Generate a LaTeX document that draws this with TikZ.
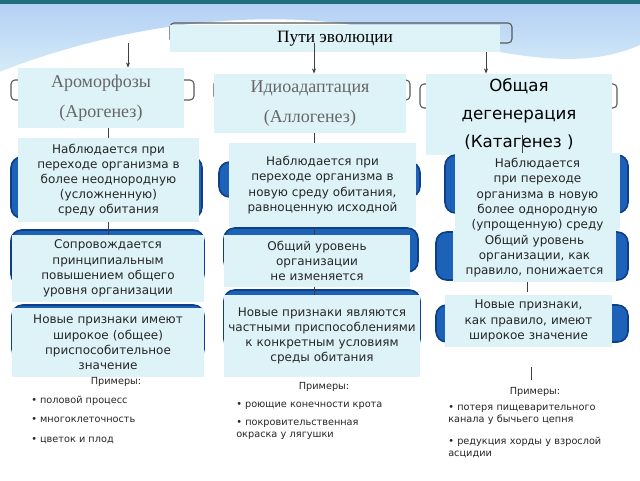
\documentclass[tikz,border=0pt]{standalone}
\usepackage{fontspec}
\setmainfont{DejaVu Sans}
\newfontfamily\serifx{Liberation Serif}
\usetikzlibrary{fit,arrows.meta}
\definecolor{lc}{HTML}{DDF3F8}
\definecolor{barc}{HTML}{1C62B8}
\definecolor{bard}{HTML}{0E3F86}
\definecolor{sky}{HTML}{9ED8EA}
\definecolor{teal}{HTML}{1F6E7E}
\begin{document}
\begin{tikzpicture}[x=0.75pt,y=-0.75pt,
  tb/.style={fill=lc,draw=none,inner sep=0pt},
  txt/.style={font=\fontsize{9}{11.4}\selectfont,align=center,text=black!85,inner sep=0pt},
  bar/.style={fill=barc,draw=bard,line width=1.2pt,rounded corners=8pt},
  brk/.style={draw=black!65,line width=0.8pt,rounded corners=3pt},
  ln/.style={draw=black!75,line width=0.7pt},
  ex/.style={font=\fontsize{7.3}{9}\selectfont,align=left,anchor=west,text=black!85,inner sep=0pt}]
\useasboundingbox (0,0) rectangle (640,480);
% background
\fill[white] (0,0) rectangle (640,480);
\shade[top color=sky!80!blue!60,bottom color=sky!40] (0,0) -- (640,0) -- (640,45) .. controls (560,80) and (470,40) .. (330,22) .. controls (200,10) and (80,40) .. (0,72) -- cycle;
\fill[white] (0,72) .. controls (80,40) and (200,14) .. (330,24) .. controls (200,20) and (80,50) .. (0,80) -- cycle;
\fill[teal] (0,0) rectangle (640,4);
% title
\draw[brk] (170,23) rectangle (512,43);
\node[tb,fit={(170,25)(500,52)}] (t) {};
\node[font=\serifx\fontsize{13}{15}\selectfont] (tt) at (t) {Пути эволюции};
% brackets row 2
\draw[brk] (11,80) rectangle (194,100);
\draw[brk] (214,80) rectangle (410,100);
\draw[brk] (420,84) rectangle (617,108);
% arrows
\coordinate (a0) at (128,43); \coordinate (b0) at (314,43); \coordinate (c0) at (486,52);
\node[tb,fit={(18,68)(184,128)}] (a) {};
\node[tb,fit={(214,74)(406,133)}] (b) {};
\node[tb,fit={(426,74)(612,155)}] (c) {};
\draw[ln,-{Stealth[length=4pt]}] (a0) -- (a.north -| a0);
\draw[ln,-{Stealth[length=4pt]}] (b0) -- (b.north -| b0);
\draw[ln,-{Stealth[length=4pt]}] (c0) -- (c.north -| c0);
\node[font=\serifx\fontsize{13.5}{22}\selectfont,align=center,text=black!60] at (a) {Ароморфозы\\(Арогенез)};
\node[font=\serifx\fontsize{13.5}{22}\selectfont,align=center,text=black!60] at (b) {Идиоадаптация\\(Аллогенез)};
\node[font=\fontsize{12.5}{21}\selectfont,align=center] at (c) {Общая\\дегенерация\\(Катагенез )};
% bars
\draw[bar] (11,157) rectangle (202,218);
\draw[bar] (219,162) rectangle (420,197);
\draw[bar] (445,155) rectangle (628,213);
\draw[bar] (11,230) rectangle (204,285);
\draw[bar] (224,228) rectangle (418,272);
\draw[bar] (436,232) rectangle (628,280);
\draw[bar] (12,305) rectangle (204,360);
\draw[bar] (224,290) rectangle (420,350);
\draw[bar] (436,305) rectangle (628,342);
% boxes
\node[tb,fit={(18,138)(199,222)}] (a1) {};
\node[tb,fit={(229,143)(416,227)}] (b1) {};
\node[tb,fit={(455,153)(620,230)}] (c1) {};
\node[tb,fit={(12,235)(204,302)}] (a2) {};
\node[tb,fit={(224,235)(410,287)}] (b2) {};
\node[tb,fit={(453,230)(616,282)}] (c2) {};
\node[tb,fit={(12,308)(204,377)}] (a3) {};
\node[tb,fit={(224,295)(420,377)}] (b3) {};
\node[tb,fit={(445,295)(612,347)}] (c3) {};
% connector lines
\draw[ln] (a.south -| 108,0) -- (a1.north -| 108,0);
\draw[ln] (a1.south -| 108,0) -- (a2.north -| 108,0);
\draw[ln] (b.south -| 314,0) -- (b1.north -| 314,0);
\draw[ln] (b1.south -| 314,0) -- (b2.north -| 314,0);
\draw[ln] (b2.south -| 314,0) -- (b3.north -| 314,0);
\draw[ln] (c.south -| 522,0) ++(0,-20) -- (c1.north -| 522,0);
\draw[ln] (c2.south -| 527,0) -- ++(0,10);
\coordinate (c4) at (531,380);
\draw[ln] (c3.south -| 531,0) ++(0,20) -- (c4);
% texts
\node[txt,text width=132pt] at (a1) {Наблюдается при переходе организма в более неоднородную (усложненную) среду обитания};
\node[txt,text width=132pt] at (b1) {Наблюдается при переходе организма в новую среду обитания, равноценную исходной};
\node[txt,text width=116pt,anchor=north] at ([yshift=-4]c1.north) {Наблюдается при переходе организма в новую более однородную (упрощенную) среду};
\node[txt,text width=130pt] at (a2) {Сопровождается принципиальным повышением общего уровня организации};
\node[txt,text width=118pt] at (b2) {Общий уровень организации не изменяется};
\node[txt,text width=120pt] at (c2) {Общий уровень организации, как правило, понижается};
\node[txt,text width=138pt] at (a3) {Новые признаки имеют широкое (общее) приспособительное значение};
\node[txt,text width=142pt] at (b3) {Новые признаки являются частными приспособлениями к конкретным условиям среды обитания};
\node[txt,text width=116pt] at (c3) {Новые признаки, как правило, имеют широкое значение};
% examples
\node[ex,anchor=center] (pa) at (116,382) {Примеры:};
\node[ex] at (31,401) {• половой процесс};
\node[ex] at (31,420) {• многоклеточность};
\node[ex] at (31,440) {• цветок и плод};
\node[ex,anchor=center] (pb) at (324,387) {Примеры:};
\node[ex] at (236,406) {• роющие конечности крота};
\node[ex,text width=130pt,anchor=north west] at (236,420) {• покровительственная\\окраска у лягушки};
\node[ex,text width=140pt,anchor=north west] at (448,405) {• потеря пищеварительного\\канала у бычьего цепня};
\node[ex,anchor=center] (pc) at (535,392) {Примеры:};
\node[ex,text width=140pt,anchor=north west] at (448,437) {• редукция хорды у взрослой\\асцидии};
\end{tikzpicture}
\end{document}
